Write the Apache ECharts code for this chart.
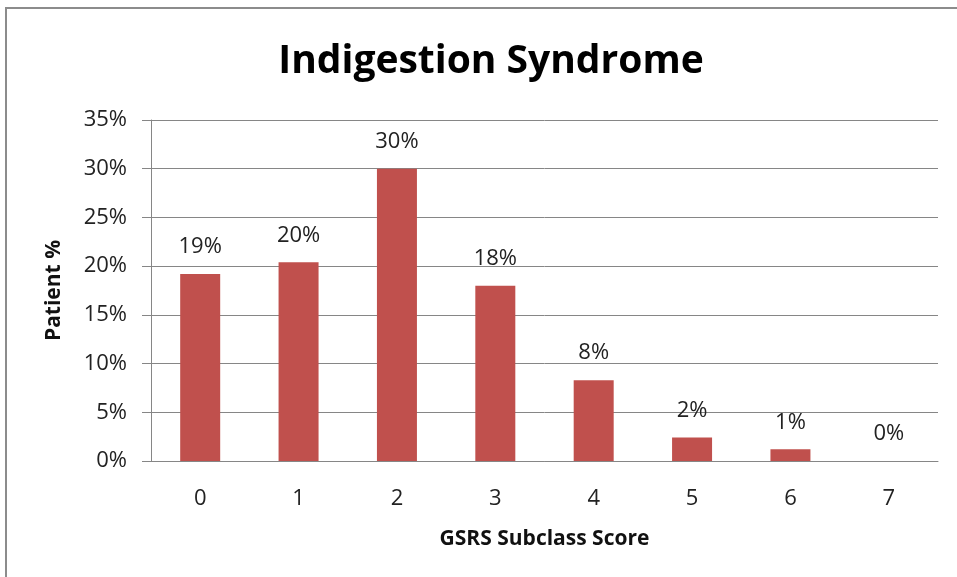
<!DOCTYPE html>
<html>
<head>
<meta charset="utf-8">
<script src="https://cdn.jsdelivr.net/npm/echarts@6/dist/echarts.min.js"></script>
<style>
  html, body { margin: 0; padding: 0; background: #fff; }
  #chart { width: 957px; height: 577px; }
</style>
</head>
<body>
<div id="chart"></div>
<script>
// GSRS subclass score categories and share of patients
const scores = ['0', '1', '2', '3', '4', '5', '6', '7']
const patientShare = [0.192, 0.204, 0.300, 0.180, 0.083, 0.024, 0.012, 0.0]
const yTicks = { min: 0, max: 0.35, step: 0.05 }

const FONT = "'Open Sans', sans-serif"
const pct = (v) => Math.round(v * 100) + '%'

const chart = echarts.init(document.getElementById('chart'))

chart.setOption({
  backgroundColor: '#fff',
  animation: false,
  title: {
    text: 'Indigestion Syndrome',
    left: 486,
    textAlign: 'center',
    top: 37,
    textStyle: { fontFamily: FONT, fontSize: 39, fontWeight: 'bold', color: '#000' },
  },
  // outer frame of the chart box (only left and top edges are visible)
  graphic: [
    {
      type: 'rect',
      shape: { x: 6, y: 8, width: 1000, height: 700 },
      style: { fill: 'none', stroke: '#8c8c8c', lineWidth: 2 },
    },
  ],
  grid: { left: 151, right: 19, top: 120, bottom: 116 },
  xAxis: {
    type: 'category',
    data: scores,
    name: 'GSRS Subclass Score',
    nameLocation: 'middle',
    nameGap: 68,
    nameTextStyle: { fontFamily: FONT, fontSize: 21, fontWeight: 'bold', color: '#111' },
    axisLine: { lineStyle: { color: '#868686', width: 1 } },
    axisTick: { show: false },
    axisLabel: { fontFamily: FONT, fontSize: 22, color: '#222', margin: 27 },
  },
  yAxis: {
    type: 'value',
    min: yTicks.min,
    max: yTicks.max,
    interval: yTicks.step,
    name: 'Patient %',
    nameLocation: 'middle',
    nameGap: 86,
    nameTextStyle: { fontFamily: FONT, fontSize: 21, fontWeight: 'bold', color: '#111' },
    axisLine: { show: true, lineStyle: { color: '#868686', width: 1 } },
    axisTick: { show: true, length: 9, lineStyle: { color: '#868686' } },
    splitLine: { lineStyle: { color: '#868686', width: 1 } },
    axisLabel: { fontFamily: FONT, fontSize: 22, color: '#222', margin: 24, formatter: pct },
  },
  series: [
    {
      type: 'bar',
      data: patientShare,
      barWidth: 40,
      itemStyle: { color: '#c0504d' },
      label: {
        show: true,
        position: 'top',
        distance: 16,
        fontFamily: FONT,
        fontSize: 22,
        color: '#222',
        formatter: (p) => pct(p.value),
      },
    },
  ],
})
</script>
</body>
</html>
